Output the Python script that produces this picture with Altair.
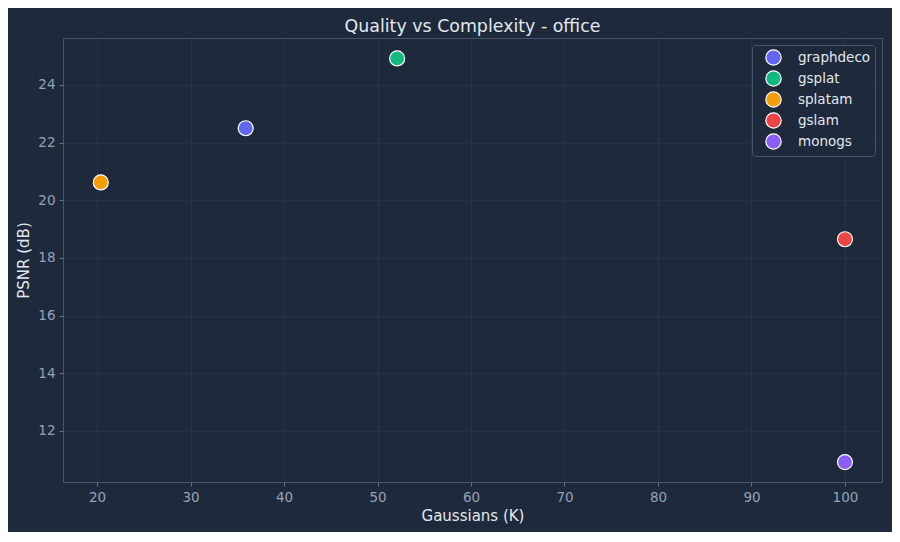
import altair as alt
import pandas as pd

methods = ["graphdeco", "gsplat", "splatam", "gslam", "monogs"]
gaussians_k = [35.9, 52.1, 20.4, 100.0, 100.0]
psnr_db = [22.5, 24.92, 20.62, 18.65, 10.92]
colors = ["#6366f1", "#10b981", "#f59e0b", "#ef4444", "#8b5cf6"]

df = pd.DataFrame({"method": methods, "gaussians": gaussians_k, "psnr": psnr_db})

FONT = "DejaVu Sans"
BG = "#1e293b"

chart = alt.Chart(df).mark_circle(
    size=225, opacity=1, stroke="white", strokeWidth=1.2
).encode(
    x=alt.X("gaussians:Q", title="Gaussians (K)",
            scale=alt.Scale(domain=[16.36, 103.96], nice=False, zero=False),
            axis=alt.Axis(values=[20, 30, 40, 50, 60, 70, 80, 90, 100])),
    y=alt.Y("psnr:Q", title="PSNR (dB)",
            scale=alt.Scale(domain=[10.23, 25.63], nice=False, zero=False),
            axis=alt.Axis(values=[12, 14, 16, 18, 20, 22, 24])),
    color=alt.Color("method:N", sort=methods,
                    scale=alt.Scale(domain=methods, range=colors),
                    legend=alt.Legend(title=None, orient="top-right", offset=7)),
).properties(
    width=819, height=444,
    title=alt.TitleParams("Quality vs Complexity - office", fontSize=17.4,
                          color="#e2e8f0", font=FONT, fontWeight="normal",
                          anchor="middle", offset=3),
    background=BG,
    padding={"left": 55, "top": 30, "right": 10, "bottom": 50},
    autosize=alt.AutoSizeParams(type="none"),
).configure(
    font=FONT
).configure_view(
    stroke="#475569", strokeWidth=1, fill=BG
).configure_legend(
    symbolSize=235, symbolStrokeColor="white",
    symbolStrokeWidth=1.2, symbolOpacity=1,
    symbolOffset=9, labelOffset=16,
    labelFontSize=13.5, labelColor="#e2e8f0",
    labelFont=FONT, rowPadding=0,
    fillColor=BG, strokeColor="#475569",
    padding=4, cornerRadius=3,
).configure_axis(
    grid=True, gridColor="#334155", gridOpacity=0.6, gridWidth=0.8,
    domain=False, tickColor="#64748b", tickSize=4,
    labelColor="#94a3b8", labelFontSize=13.5, labelFont=FONT, labelPadding=4,
    titleColor="#e2e8f0", titleFontSize=15, titleFont=FONT, titleFontWeight="normal",
).configure_axisX(titlePadding=5).configure_axisY(titlePadding=6)

chart.save("out.html", embed_options={"renderer": "svg", "actions": False})
